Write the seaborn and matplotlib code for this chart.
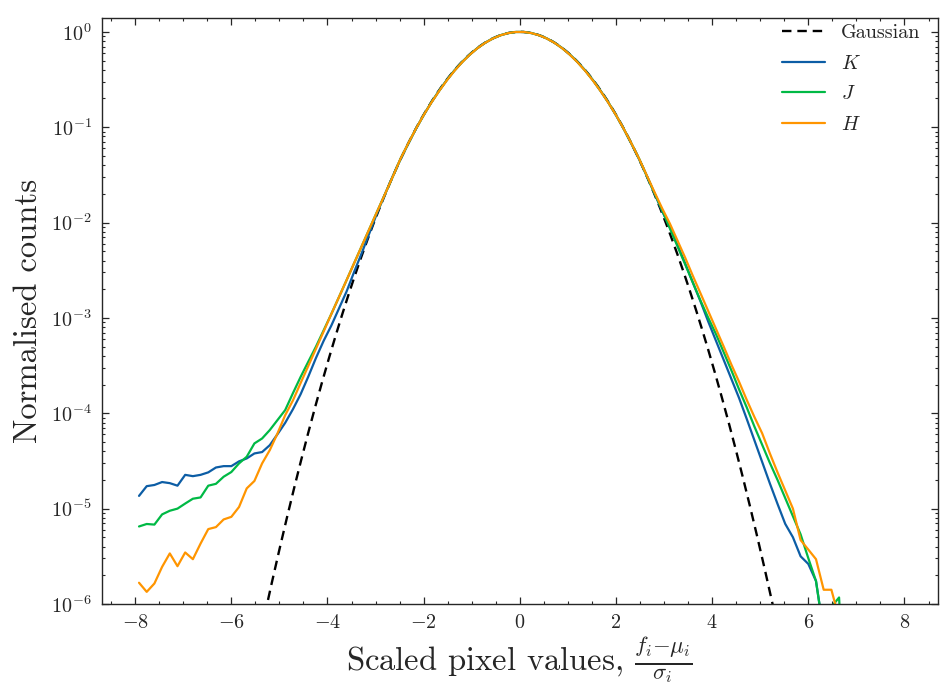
import numpy as np
import pandas as pd
import matplotlib
matplotlib.use("Agg")
import matplotlib.pyplot as plt
import matplotlib.ticker as mticker
import seaborn as sns

# ---------------- data ----------------
# histogram bin centres (100 bins of width 0.16 between -8 and 8)
bin_centres = [-7.92 + 0.16 * k for k in range(100)]

# Gaussian reference: mean, sigma, peak amplitude
gauss_mu = 0.0
gauss_sigma = 1.0
gauss_amp = 1.0

nan = float("nan")

K_band = [
    1.36e-5, 1.72e-5, 1.77e-5, 1.90e-5, 1.85e-5, 1.74e-5, 2.26e-5, 2.19e-5, 2.26e-5, 2.40e-5,
    2.70e-5, 2.79e-5, 2.79e-5, 3.13e-5, 3.36e-5, 3.79e-5, 3.92e-5, 4.63e-5, 6.03e-5, 7.94e-5,
    1.10e-4, 1.58e-4, 2.42e-4, 3.80e-4, 5.75e-4, 8.32e-4, 1.26e-3, 1.91e-3, 3.09e-3, 4.90e-3,
    7.94e-3, 0.0129, 0.0200, 0.0309, 0.0462,
    0.0672, 0.0962, 0.134, 0.182, 0.241, 0.312, 0.394, 0.484, 0.579, 0.677, 0.770, 0.854, 0.922, 0.972, 0.997,
    0.997, 0.972, 0.922, 0.854, 0.770, 0.677, 0.579, 0.484, 0.394, 0.312, 0.241, 0.182, 0.134, 0.0962, 0.0672,
    0.0462, 0.0309, 0.0202, 0.0132, 8.91e-3, 5.82e-3, 3.72e-3, 2.34e-3, 1.48e-3, 9.12e-4,
    5.75e-4, 3.63e-4, 2.29e-4, 1.445e-4, 8.71e-5, 5.19e-5, 3.09e-5, 1.84e-5, 1.12e-5, 6.92e-6,
    5.01e-6, 3.16e-6, 2.63e-6, 1.74e-6, 5.0e-7, nan, nan, nan, nan, nan,
    nan, nan, nan, nan, nan,
]

J_band = [
    6.5e-6, 6.9e-6, 6.8e-6, 8.7e-6, 9.5e-6, 1.00e-5, 1.13e-5, 1.27e-5, 1.31e-5, 1.74e-5,
    1.82e-5, 2.16e-5, 2.42e-5, 2.98e-5, 3.50e-5, 4.83e-5, 5.44e-5, 6.67e-5, 8.49e-5, 1.08e-4,
    1.62e-4, 2.40e-4, 3.47e-4, 5.0e-4, 7.41e-4, 1.10e-3, 1.66e-3, 2.51e-3, 3.81e-3, 5.78e-3,
    8.77e-3, 0.0133, 0.0201, 0.0305, 0.0468,
    0.0676, 0.0964, 0.134, 0.182, 0.240, 0.311, 0.392, 0.482, 0.578, 0.675, 0.769, 0.853, 0.922, 0.971, 0.997,
    0.997, 0.971, 0.922, 0.853, 0.769, 0.675, 0.578, 0.482, 0.392, 0.311, 0.240, 0.182, 0.134, 0.0964, 0.0676,
    0.0468, 0.0309, 0.0204, 0.0135, 8.71e-3, 5.62e-3, 3.63e-3, 2.34e-3, 1.51e-3, 1.0e-3,
    6.76e-4, 4.37e-4, 2.82e-4, 1.78e-4, 1.15e-4, 7.24e-5, 4.68e-5, 3.02e-5, 2.0e-5, 1.29e-5,
    8.32e-6, 5.37e-6, 3.02e-6, 1.74e-6, 5.0e-7, 9.3e-7, 1.17e-6, 3.2e-8, nan, nan,
    nan, nan, nan, nan, nan,
]

H_band = [
    1.67e-6, 1.34e-6, 1.64e-6, 2.45e-6, 3.39e-6, 2.49e-6, 3.47e-6, 2.95e-6, 4.3e-6, 6.1e-6,
    6.4e-6, 7.7e-6, 8.2e-6, 1.04e-5, 1.63e-5, 1.95e-5, 2.98e-5, 4.11e-5, 6.15e-5, 9.55e-5,
    1.36e-4, 2.07e-4, 3.13e-4, 4.75e-4, 7.21e-4, 1.10e-3, 1.66e-3, 2.51e-3, 3.81e-3, 5.78e-3,
    8.77e-3, 0.0133, 0.0201, 0.0305, 0.0468,
    0.0678, 0.0965, 0.134, 0.181, 0.239, 0.309, 0.390, 0.480, 0.576, 0.674, 0.768, 0.852, 0.921, 0.971, 0.997,
    0.997, 0.971, 0.921, 0.852, 0.768, 0.674, 0.576, 0.480, 0.390, 0.309, 0.239, 0.181, 0.134, 0.0965, 0.0678,
    0.0468, 0.0313, 0.0209, 0.0141, 9.77e-3, 6.46e-3, 4.27e-3, 2.75e-3, 1.80e-3, 1.175e-3,
    7.67e-4, 5.01e-4, 3.24e-4, 2.14e-4, 1.38e-4, 9.12e-5, 6.17e-5, 3.80e-5, 2.40e-5, 1.55e-5,
    1.0e-5, 4.68e-6, 3.72e-6, 2.95e-6, 1.41e-6, 1.41e-6, 7.1e-7, nan, nan, nan,
    nan, nan, nan, nan, nan,
]

series_names = ["$K$", "$J$", "$H$"]
series_values = [K_band, J_band, H_band]
series_colors = ["#0C5DA5", "#00B945", "#FF9500"]

x_ticks = [-8, -6, -4, -2, 0, 2, 4, 6, 8]
y_ticks = [1e-6, 1e-5, 1e-4, 1e-3, 1e-2, 1e-1, 1e0]

# ---------------- style ----------------
sns.set_style("ticks")
plt.rcParams.update({
    "font.family": ["serif"],
    "font.serif": ["cmr10", "DejaVu Serif"],
    "mathtext.fontset": "cm",
    "axes.formatter.use_mathtext": True,
    "axes.unicode_minus": True,
    "axes.linewidth": 1.0,
    "xtick.direction": "in",
    "ytick.direction": "in",
    "xtick.top": True,
    "ytick.right": True,
})

fig = plt.figure(figsize=(9.4, 6.89), dpi=100)
ax = fig.add_axes([0.108, 0.1234, 0.890, 0.8506])
ax.set_yscale("log")

# Gaussian reference curve
xg = np.linspace(-8.7, 8.7, 1200)
yg = gauss_amp * np.exp(-0.5 * ((xg - gauss_mu) / gauss_sigma) ** 2)
sns.lineplot(x=xg, y=yg, ax=ax, color="black", linestyle=(0, (4, 2.5)),
             linewidth=1.7, label="Gaussian", estimator=None, sort=False)

for name, vals, col in zip(series_names, series_values, series_colors):
    df = pd.DataFrame({"x": bin_centres, "y": vals}).dropna()
    sns.lineplot(data=df, x="x", y="y", ax=ax, color=col, linewidth=1.6,
                 label=name, estimator=None, sort=False)

ax.set_xlim(-8.7, 8.7)
ax.set_ylim(1e-6, 1.4)
ax.set_xticks(x_ticks)
ax.xaxis.set_minor_locator(mticker.MultipleLocator(0.5))
ax.set_yticks(y_ticks)
ax.yaxis.set_minor_locator(mticker.LogLocator(base=10, subs=np.arange(2, 10), numticks=20))
ax.yaxis.set_minor_formatter(mticker.NullFormatter())

ax.tick_params(which="major", length=5, width=0.9, labelsize=14.5, top=True, right=True, direction="in", pad=7)
ax.tick_params(which="minor", length=2.5, width=0.8, top=True, right=True, direction="in")

ax.set_xlabel(r"Scaled pixel values, $\frac{f_i{-}\mu_i}{\sigma_i}$", fontsize=23.5, labelpad=2)
ax.set_ylabel("Normalised counts", fontsize=23.5, labelpad=6)

for sp in ax.spines.values():
    sp.set_visible(True)
    sp.set_linewidth(1.0)

leg = ax.legend(loc="upper right", bbox_to_anchor=(0.988, 1.003), frameon=False,
                fontsize=14.5, handlelength=2.1, labelspacing=0.62, borderaxespad=0.0)

fig.savefig("out.png", dpi=100)
